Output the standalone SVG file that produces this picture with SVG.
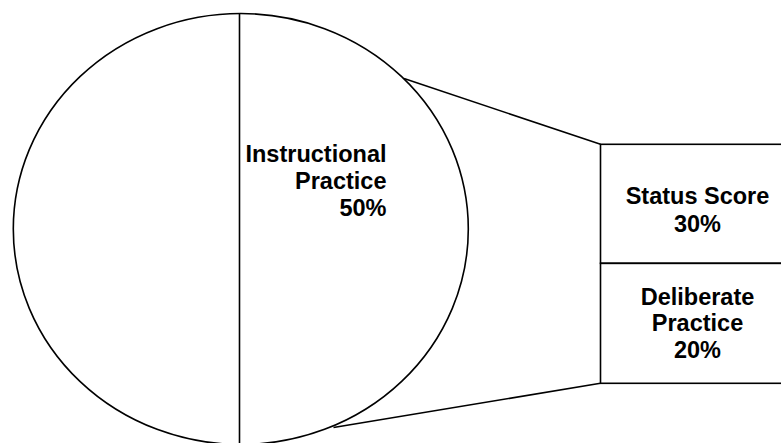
<svg xmlns="http://www.w3.org/2000/svg" width="781" height="443" viewBox="0 0 781 443">
<style>
.s{fill:none;stroke:#000;stroke-width:1.6}
.t{font-family:"Liberation Sans",Arial,sans-serif;font-weight:bold;font-size:23.5px;fill:#000}
</style>
<rect width="781" height="443" fill="#fff"/>
<g id="pie">
<ellipse class="s" cx="240.8" cy="229" rx="227.5" ry="215.5"/>
<line class="s" x1="239.5" y1="13.5" x2="239.5" y2="445"/>
<text class="t" text-anchor="end" x="386.5" y="161.7">Instructional</text>
<text class="t" text-anchor="end" x="386.5" y="188.5">Practice</text>
<text class="t" text-anchor="end" x="386.5" y="215.5">50%</text>
</g>
<g id="connectors">
<line class="s" x1="404" y1="78.5" x2="600.5" y2="144.3"/>
<line class="s" x1="333.5" y1="427.5" x2="600.5" y2="383.3"/>
</g>
<g id="status">
<rect class="s" x="600.5" y="144.3" width="200" height="119"/>
<text class="t" text-anchor="middle" x="697.5" y="204">Status Score</text>
<text class="t" text-anchor="middle" x="697.5" y="231.5">30%</text>
</g>
<g id="deliberate">
<rect class="s" x="600.5" y="263.3" width="200" height="120"/>
<text class="t" text-anchor="middle" x="697.5" y="305">Deliberate</text>
<text class="t" text-anchor="middle" x="697.5" y="331">Practice</text>
<text class="t" text-anchor="middle" x="697.5" y="357.5">20%</text>
</g>
</svg>
